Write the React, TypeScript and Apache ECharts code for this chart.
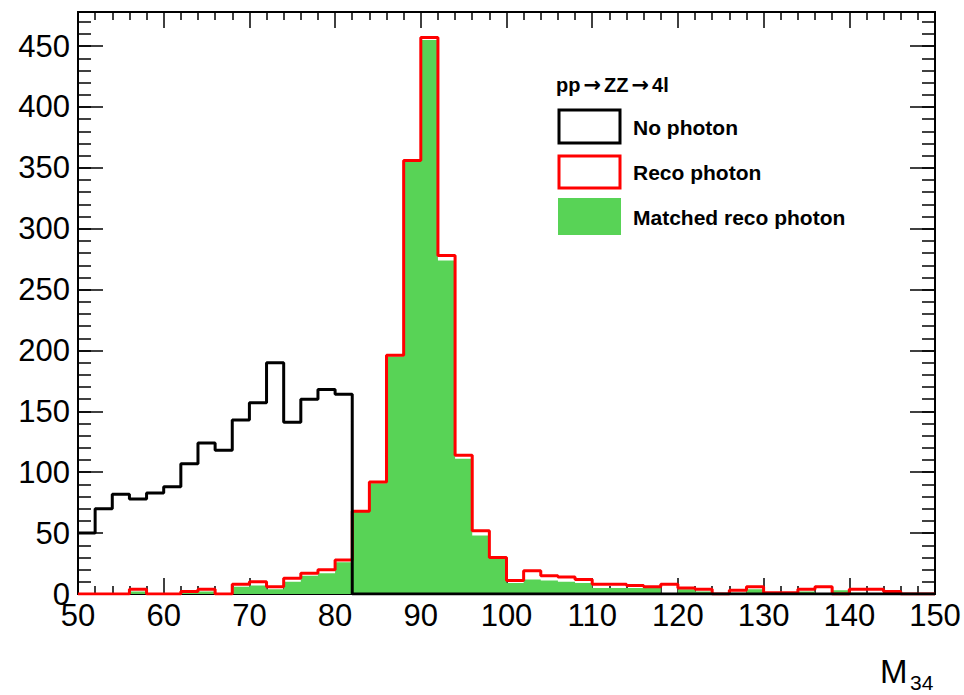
import React, { useEffect, useRef } from "react";
import * as echarts from "echarts";

// Bin low edges (GeV), bin width 2, last upper edge 150
const binLowEdges = [
  50, 52, 54, 56, 58, 60, 62, 64, 66, 68,
  70, 72, 74, 76, 78, 80, 82, 84, 86, 88,
  90, 92, 94, 96, 98, 100, 102, 104, 106, 108,
  110, 112, 114, 116, 118, 120, 122, 124, 126, 128,
  130, 132, 134, 136, 138, 140, 142, 144, 146, 148,
];
const lastUpperEdge = 150;

const noPhoton = [
  50, 70, 82, 78, 83, 88, 107, 124, 118, 143,
  157, 190, 141, 160, 168, 164, 0, 0, 0, 0,
  0, 0, 0, 0, 0, 0, 0, 0, 0, 0,
  0, 0, 0, 0, 0, 0, 0, 0, 0, 0,
  0, 0, 0, 0, 0, 0, 0, 0, 0, 0,
];
const recoPhoton = [
  0, 0, 0, 4, 0, 0, 2, 4, 0, 8,
  10, 6, 13, 17, 20, 28, 68, 92, 196, 356,
  457, 278, 114, 52, 30, 11, 19, 15, 14, 12,
  8, 8, 7, 6, 8, 5, 4, 0, 3, 6,
  1, 1, 4, 6, 0, 4, 4, 2, 0, 0,
];
const matchedRecoPhoton = [
  0, 0, 0, 2, 0, 0, 1, 2, 0, 6,
  7, 4, 10, 15, 17, 26, 68, 91, 195, 355,
  455, 274, 111, 48, 29, 9, 12, 11, 10, 9,
  5, 5, 5, 5, 0, 4, 2, 0, 1, 4,
  0, 0, 2, 0, 3, 1, 0, 0, 0, 0,
];

const seriesNames = ["No photon", "Reco photon", "Matched reco photon"];
const processParts = ["pp", "\u2192", "ZZ", "\u2192", "4l"];
const xTitleMain = "M";
const xTitleSub = "34";

const GREEN = "#58d356";
const FONT = "Liberation Sans, Arial, Helvetica, sans-serif";

function stepData(values: number[]) {
  const pts: [number, number][] = binLowEdges.map((x, i) => [x, values[i]]);
  pts.push([lastUpperEdge, values[values.length - 1]]);
  return pts;
}

export default function App() {
  const ref = useRef<HTMLDivElement>(null);

  useEffect(() => {
    if (!ref.current) return;
    const chart = echarts.init(ref.current, null, { renderer: "svg" });

    const tickLine = { color: "#000", width: 1.5 };
    const axisLine = { show: true, onZero: false, lineStyle: { color: "#000", width: 2 } };

    const xBase = {
      type: "value" as const,
      min: 50,
      max: 150,
      interval: 10,
      axisLine,
      splitLine: { show: false },
      axisTick: { show: true, inside: true, length: 16, lineStyle: tickLine },
      minorTick: { show: true, splitNumber: 5, length: 8, lineStyle: tickLine },
      minorSplitLine: { show: false },
    };

    const yBase = (interval: number, tickLen: number, position: "left" | "right", labels: boolean) => ({
      type: "value" as const,
      min: 0,
      max: 478,
      interval,
      position,
      axisLine,
      splitLine: { show: false },
      axisTick: { show: true, inside: true, length: tickLen, lineStyle: tickLine },
      axisLabel: labels
        ? { show: true, fontSize: 31, fontFamily: FONT, color: "#000", margin: 8, showMaxLabel: false }
        : { show: false },
    });

    const titleText = processParts
      .map((p) => (p === "\u2192" ? `{r|${p}}` : `{a|${p}}`))
      .join("");

    const legendText = (text: string, y: number) => ({
      type: "text",
      x: 633,
      y,
      style: { text, font: `bold 21px ${FONT}`, fill: "#000", verticalAlign: "middle" },
    });

    chart.setOption({
      animation: false,
      backgroundColor: "#fff",
      grid: { left: 78, right: 29, top: 12, bottom: 101, containLabel: false },
      xAxis: [
        {
          ...xBase,
          position: "bottom",
          axisLabel: { show: true, fontSize: 31, fontFamily: FONT, color: "#000", margin: 6 },
        },
        { ...xBase, position: "top", axisLabel: { show: false } },
      ],
      yAxis: [
        yBase(50, 25, "left", true),
        yBase(10, 13, "left", false),
        yBase(50, 25, "right", false),
        yBase(10, 13, "right", false),
      ],
      series: [
        {
          name: seriesNames[2],
          type: "line",
          step: "end",
          data: stepData(matchedRecoPhoton),
          xAxisIndex: 0,
          yAxisIndex: 0,
          symbol: "none",
          lineStyle: { width: 0, color: GREEN },
          areaStyle: { color: GREEN, opacity: 1 },
          z: 2,
        },
        {
          name: seriesNames[1],
          type: "line",
          step: "end",
          data: stepData(recoPhoton),
          xAxisIndex: 0,
          yAxisIndex: 0,
          symbol: "none",
          lineStyle: { width: 3, color: "#ff0000" },
          z: 3,
        },
        {
          name: seriesNames[0],
          type: "line",
          step: "end",
          data: stepData(noPhoton),
          xAxisIndex: 0,
          yAxisIndex: 0,
          symbol: "none",
          lineStyle: { width: 3, color: "#000" },
          z: 4,
        },
      ],
      graphic: [
        {
          type: "text",
          x: 556,
          y: 85,
          style: {
            text: titleText,
            align: "left",
            verticalAlign: "middle",
            rich: {
              a: { fontFamily: FONT, fontWeight: "bold", fontSize: 20, fill: "#000", color: "#000" },
              r: {
                fontFamily: "DejaVu Sans",
                fontWeight: "bold",
                fontSize: 21,
                fill: "#000",
                color: "#000",
                padding: [0, 3, 0, 3],
              },
            },
          },
        },
        {
          type: "rect",
          shape: { x: 559, y: 110, width: 61, height: 33 },
          style: { fill: "#fff", stroke: "#000", lineWidth: 3 },
        },
        {
          type: "rect",
          shape: { x: 559, y: 156, width: 61, height: 32 },
          style: { fill: "#fff", stroke: "#ff0000", lineWidth: 3 },
        },
        {
          type: "rect",
          shape: { x: 558, y: 198, width: 63, height: 37 },
          style: { fill: GREEN },
        },
        legendText(seriesNames[0], 127),
        legendText(seriesNames[1], 172),
        legendText(seriesNames[2], 217),
        {
          type: "text",
          x: 880,
          y: 671,
          style: { text: xTitleMain, font: `33px ${FONT}`, fill: "#000", verticalAlign: "middle" },
        },
        {
          type: "text",
          x: 910,
          y: 682,
          style: { text: xTitleSub, font: `21px ${FONT}`, fill: "#000", verticalAlign: "middle" },
        },
      ],
    });

    return () => chart.dispose();
  }, []);

  return (
    <div
      ref={ref}
      style={{ position: "fixed", left: 0, top: 0, width: 964, height: 695, background: "#fff" }}
    />
  );
}
